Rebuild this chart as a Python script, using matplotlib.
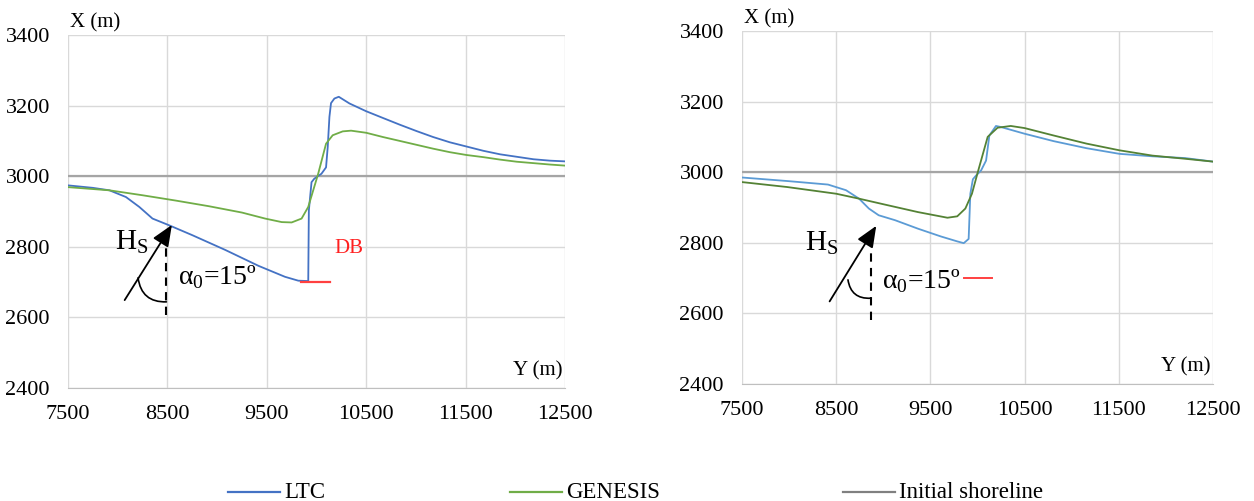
import matplotlib
matplotlib.use("Agg")
import matplotlib.pyplot as plt
from matplotlib.lines import Line2D

plt.rcParams['font.family'] = ['Liberation Serif', 'DejaVu Serif']

# ---- Data (left panel) ----
ltc_left_y = [7500, 7750, 7917, 8083, 8217, 8350, 8517, 8750, 9083, 9417, 9683, 9817, 9917,
              9923, 9950, 9978, 10050, 10096, 10113, 10130, 10146, 10180, 10224, 10332,
              10500, 10668, 10837, 11005, 11173, 11342, 11510, 11678, 11847, 12015, 12183,
              12350, 12500]
ltc_left_x = [2974, 2967, 2960, 2941, 2913, 2880, 2861, 2833, 2791, 2746, 2715, 2704, 2703,
              2903, 2983, 2993, 3007, 3025, 3083, 3168, 3207, 3220, 3225, 3206,
              3184, 3165, 3146, 3128, 3111, 3096, 3084, 3072, 3062, 3055, 3048,
              3044, 3042]
gen_left_y = [7500, 7917, 8250, 8583, 8917, 9250, 9483, 9650, 9750, 9850, 9917, 9967, 10017,
              10096, 10163, 10264, 10348, 10500, 10668, 10837, 11005, 11173, 11342, 11510,
              11678, 11847, 12015, 12183, 12350, 12500]
gen_left_x = [2969, 2960, 2946, 2931, 2915, 2897, 2880, 2870, 2869, 2880, 2913, 2960, 3007,
              3092, 3116, 3127, 3129, 3123, 3111, 3100, 3089, 3078, 3068, 3060,
              3054, 3047, 3041, 3037, 3033, 3030]

# ---- Data (right panel) ----
ltc_right_y = [7500, 7979, 8413, 8604, 8743, 8847, 8951, 9125, 9368, 9611, 9785, 9854, 9906,
               9924, 9951, 9986, 10038, 10091, 10126, 10196, 10248, 10500, 10808, 11157,
               11507, 11857, 12206, 12500]
ltc_right_x = [2985, 2975, 2965, 2949, 2925, 2897, 2878, 2864, 2840, 2818, 2804, 2799, 2811,
               2939, 2980, 2991, 3005, 3033, 3104, 3131, 3128, 3109, 3088, 3068,
               3052, 3045, 3040, 3030]
gen_right_y = [7500, 7979, 8500, 8743, 9021, 9368, 9681, 9785, 9871, 9941, 10003, 10108,
               10213, 10353, 10500, 10808, 11157, 11507, 11857, 12206, 12500]
gen_right_x = [2972, 2958, 2939, 2925, 2908, 2887, 2871, 2875, 2897, 2939, 3000, 3100,
               3126, 3131, 3125, 3104, 3081, 3062, 3047, 3038, 3030]

initial_shoreline = 3000
y_range = [7500, 12500]
x_ticks = [7500, 8500, 9500, 10500, 11500, 12500]
y_ticks = [2400, 2600, 2800, 3000, 3200, 3400]

# detached breakwater marks (data coordinates)
db_left = [9840, 10140]
db_right = [9852, 10151]
db_level = 2700

legend_labels = ['LTC', 'GENESIS', 'Initial shoreline']
legend_colors = ['#4472C4', '#70AD47', '#808080']

fig = plt.figure(figsize=(12.54, 5.01), dpi=100)
axL = fig.add_axes([68/1254, 1-388/501, (565-68)/1254, (388-35)/501])
axR = fig.add_axes([742/1254, 1-384/501, (1213-742)/1254, (384-31)/501])


def style(ax):
    ax.set_xlim(*y_range)
    ax.set_ylim(2400, 3400)
    ax.set_xticks(x_ticks)
    ax.set_yticks(y_ticks)
    ax.grid(True, color='#D9D9D9', linewidth=1.0)
    ax.set_axisbelow(True)
    for s in ['top', 'right', 'left']:
        ax.spines[s].set_visible(False)
    ax.spines['bottom'].set_color('#BFBFBF')
    ax.tick_params(length=0, labelsize=16, colors='black')
    ax.tick_params(axis='y', pad=13)
    ax.tick_params(axis='x', pad=12)
    ax.text(0.005, 1.008, 'X (m)', transform=ax.transAxes, fontsize=15,
            ha='left', va='bottom')
    ax.text(0.995, 0.02, 'Y (m)', transform=ax.transAxes, fontsize=15,
            ha='right', va='bottom')


style(axL)
style(axR)

ARROW = dict(arrowstyle='-|>,head_length=1.3,head_width=0.55', color='black', lw=1.3,
             shrinkA=0, shrinkB=0)
ARC = dict(arrowstyle='-', color='black', lw=1.2, shrinkA=0, shrinkB=0,
           connectionstyle='arc3,rad=0.45')

# left panel
axL.axhline(initial_shoreline, color='#A5A5A5', lw=1.6)
axL.plot(ltc_left_y, ltc_left_x, color='#4472C4', lw=1.3)
axL.plot(gen_left_y, gen_left_x, color='#70AD47', lw=1.3)
axL.plot(db_left, [db_level, db_level], color='#FF4040', lw=1.6)
axL.text(10330, 2795, 'DB', color='#FF2020', fontsize=15, ha='center', va='center')

axL.annotate('', xy=(8545, 2862), xytext=(8070, 2649), arrowprops=ARROW)
axL.plot([8490, 8490], [2606, 2832], color='black', lw=1.5, ls=(0, (4, 3)))
axL.annotate('', xy=(8490, 2644), xytext=(8205, 2712), arrowprops=ARC)
axL.text(8140, 2814, r'H$_\mathregular{S}$', fontsize=21, ha='center', va='center')
axL.text(8610, 2715, r'α$_\mathregular{0}$=15º', fontsize=20, ha='left', va='center')

# right panel
axR.axhline(initial_shoreline, color='#A5A5A5', lw=1.6)
axR.plot(ltc_right_y, ltc_right_x, color='#5B9BD5', lw=1.3)
axR.plot(gen_right_y, gen_right_x, color='#548235', lw=1.3)
axR.plot(db_right, [db_level, db_level], color='#FF4040', lw=1.4)

axR.annotate('', xy=(8925, 2848), xytext=(8430, 2634), arrowprops=ARROW)
axR.plot([8865, 8865], [2580, 2800], color='black', lw=1.5, ls=(0, (4, 3)))
axR.annotate('', xy=(8865, 2643), xytext=(8625, 2695), arrowprops=ARC)
axR.text(8350, 2800, r'H$_\mathregular{S}$', fontsize=21, ha='center', va='center')
axR.text(8990, 2691, r'α$_\mathregular{0}$=15º', fontsize=20, ha='left', va='center')

# legend
xs = [228, 510, 843]
yl = 1 - 492/501
for lab, col, x0 in zip(legend_labels, legend_colors, xs):
    fig.add_artist(Line2D([x0/1254, (x0+52)/1254], [yl, yl], color=col, lw=1.6))
    fig.text((x0+56)/1254, yl, lab, fontsize=16.5, ha='left', va='center')

fig.savefig('out.png', dpi=100)
